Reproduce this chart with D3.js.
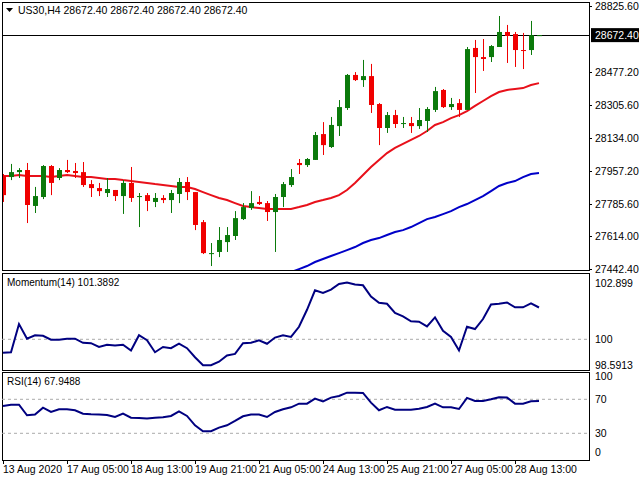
<!DOCTYPE html>
<html><head><meta charset="utf-8">
<script src="https://cdn.jsdelivr.net/npm/d3@7"></script>
<style>body{margin:0;background:#fff}svg{display:block;font-family:"Liberation Sans",Arial,sans-serif}</style>
</head><body><svg id="c" width="640" height="480"></svg>
<script>
const opens  = [27931,27926,27952,27963,27774,27821,27984,27921,27963,27958,27952,27889,27868,27842,27858,27826,27895,27821,27831,27795,27816,27805,27837,27900,27847,27689,27521,27532,27584,27616,27705,27763,27795,27789,27742,27821,27884,28000,27989,28016,28152,28084,28194,28289,28463,28436,28457,28310,28184,28252,28205,28210,28194,28221,28279,28384,28294,28315,28279,28605,28557,28557,28610,28689,28678,28594,28594,28672.4];
const highs  = [27942,27995,27973,28000,27874,27989,27989,27973,28016,28000,28005,27910,27895,27921,27858,27910,27979,27842,27842,27842,27831,27858,27921,27926,27847,27700,27579,27663,27663,27747,27789,27852,27826,27800,27837,27900,27968,28021,28026,28163,28215,28242,28331,28468,28478,28542,28521,28315,28268,28279,28242,28242,28289,28294,28400,28389,28342,28336,28610,28647,28652,28620,28773,28726,28689,28684,28747,28672.4];
const lows   = [27795,27910,27921,27684,27737,27810,27831,27910,27947,27921,27874,27821,27826,27821,27800,27732,27795,27663,27747,27768,27789,27737,27789,27805,27647,27521,27458,27505,27532,27595,27700,27753,27779,27695,27532,27768,27874,27942,27979,28016,28042,28079,28142,28279,28431,28400,28263,28094,28158,28184,28184,28158,28179,28163,28268,28289,28279,28242,28279,28368,28484,28531,28610,28526,28505,28494,28568,28672.4];
const closes = [27831,27952,27963,27779,27826,27984,27895,27963,27952,27947,27884,27868,27852,27863,27826,27895,27816,27826,27800,27816,27805,27842,27900,27847,27674,27526,27526,27595,27621,27710,27768,27789,27784,27742,27821,27889,27926,27989,28021,28147,28094,28200,28294,28463,28436,28457,28305,28184,28252,28205,28210,28194,28226,28284,28378,28294,28310,28279,28599,28557,28547,28615,28689,28668,28594,28589,28672.4,28672.4];
const maFast = [27931,27931,27937,27931,27931,27931,27926,27931,27937,27931,27926,27926,27921,27916,27916,27910,27905,27900,27895,27889,27884,27879,27874,27874,27863,27847,27831,27816,27805,27789,27774,27768,27763,27758,27758,27758,27758,27768,27779,27795,27805,27816,27831,27858,27895,27937,27979,28016,28052,28079,28100,28121,28142,28168,28200,28215,28236,28252,28273,28300,28326,28352,28373,28384,28389,28394,28410,28420];
const maSlow = [null,null,null,null,null,null,null,null,null,null,null,null,null,null,null,null,null,null,null,null,null,null,null,null,null,null,null,null,null,null,null,null,27380,27395,27405,27416,27426,27442,27458,27479,27495,27511,27526,27542,27558,27579,27595,27605,27621,27637,27647,27663,27684,27705,27716,27731,27747,27768,27784,27805,27826,27852,27879,27895,27905,27926,27942,27947];
const momentum = [99.30,99.33,100.79,100.03,100.21,100.18,99.98,99.98,100.03,100.03,99.82,99.80,99.60,99.72,99.68,99.72,99.42,100.21,99.95,99.33,99.60,99.54,99.77,99.54,99.07,98.66,98.66,98.84,99.16,99.24,99.80,99.82,99.95,99.77,100.09,100.21,100.12,100.65,101.53,102.54,102.40,102.58,102.87,102.95,102.84,102.80,102.22,101.89,101.84,101.37,101.19,100.93,100.91,100.67,101.14,100.44,100.12,99.42,100.65,100.53,101.05,101.81,101.84,101.91,101.66,101.66,101.86,101.65];
const rsi = [62.2,63.7,63.7,51.2,52.0,60.2,55.1,58.2,58.2,57.1,53.1,52.4,52.0,51.6,49.2,53.1,48.4,48.0,47.3,48.4,48.8,50.4,55.9,50.4,39.4,32.4,32.4,36.7,39.4,44.5,50.0,52.0,52.0,49.2,55.1,58.2,60.6,64.9,64.9,70.8,67.6,72.0,73.9,77.8,77.8,77.5,66.1,57.1,61.0,57.8,57.8,57.8,59.0,61.0,64.9,60.6,60.6,58.6,71.6,68.0,68.0,70.0,72.4,72.0,64.9,64.9,67.6,67.9];
const priceTicks = [28825.60,28477.20,28305.60,28134.00,27957.20,27785.60,27614.00,27442.40];
const momTicks = [102.899,100,98.5913];
const momLabels = ["102.899","100","98.5913"];
const rsiTicks = [100,70,30,0];
const timeTickIndex = [0,8,16,24,32,40,48,56,64];
const timeLabels = ["13 Aug 2020","17 Aug 05:00","18 Aug 13:00","19 Aug 21:00","21 Aug 05:00","24 Aug 13:00","25 Aug 21:00","27 Aug 05:00","28 Aug 13:00"];
const lastPrice = 28672.40;
const header = "US30,H4  28672.40 28672.40 28672.40 28672.40";

const svg = d3.select("#c");
const L = 2, R = 589;
const FS = 10.5;
const x = d3.scaleLinear().domain([0, 67]).range([3, 539]);
const y = d3.scaleLinear().domain([27442.4, 28825.6]).range([269, 6]);
const ym = d3.scaleLinear().domain([100, 102.899]).range([339.3, 283.4]);
const yr = d3.scaleLinear().domain([0, 100]).range([458.8, 373.8]);
const idx = d3.range(opens.length);

const panels = [[2,270],[273,370],[372,460]];
panels.forEach(([t,b]) => svg.append("rect").attr("x",L+0.5).attr("y",t+0.5).attr("width",R-L).attr("height",b-t).attr("fill","none").attr("stroke","#000"));

svg.append("clipPath").attr("id","mc").append("rect").attr("x",L+1).attr("y",3).attr("width",R-L-1).attr("height",267);
const g = svg.append("g").attr("clip-path","url(#mc)");

g.append("line").attr("x1",L).attr("x2",R).attr("y1",Math.round(y(lastPrice))+0.5).attr("y2",Math.round(y(lastPrice))+0.5).attr("stroke","#000");

const lineMA = d3.line().defined(d => d != null).x((d,i) => x(i)).y(d => y(d));
g.append("path").datum(maSlow).attr("d",lineMA).attr("fill","none").attr("stroke","#0000c8").attr("stroke-width",2);
g.append("path").datum(maFast).attr("d",lineMA).attr("fill","none").attr("stroke","#e8101a").attr("stroke-width",2);

const col = i => closes[i] >= opens[i] ? "#0b7a0b" : "#f00000";
g.selectAll(".w").data(idx).join("line").attr("x1",i=>Math.round(x(i))+0.5).attr("x2",i=>Math.round(x(i))+0.5)
 .attr("y1",i=>y(highs[i])).attr("y2",i=>y(lows[i])).attr("stroke",col);
g.selectAll(".b").data(idx).join("rect").attr("x",i=>Math.round(x(i))-2).attr("width",5)
 .attr("y",i=>y(Math.max(opens[i],closes[i]))).attr("height",i=>Math.max(1,Math.abs(y(opens[i])-y(closes[i])))).attr("fill",col);

svg.append("path").attr("d","M6,8 L13,8 L9.5,12 Z").attr("fill","#000");
svg.append("text").attr("x",18).attr("y",14).attr("font-size",FS).text(header);

svg.selectAll(".pt").data(priceTicks).join("text").attr("x",595).attr("y",d=>y(d)+4).attr("font-size",FS).text(d=>d.toFixed(2));
svg.selectAll(".ptk").data(priceTicks).join("line").attr("x1",R).attr("x2",R+3).attr("y1",d=>Math.round(y(d))+0.5).attr("y2",d=>Math.round(y(d))+0.5).attr("stroke","#000");
const ly = y(lastPrice);
svg.append("rect").attr("x",591).attr("y",ly-7).attr("width",48).attr("height",14).attr("fill","#000");
svg.append("text").attr("x",595).attr("y",ly+4).attr("font-size",FS).attr("fill","#fff").text(lastPrice.toFixed(2));

svg.append("line").attr("x1",L).attr("x2",R).attr("y1",ym(100)).attr("y2",ym(100)).attr("stroke","#aaa").attr("stroke-dasharray","3,3");
svg.append("path").datum(momentum).attr("d",d3.line().x((d,i)=>x(i)).y(d=>Math.max(276,ym(d)))).attr("fill","none").attr("stroke","#000080").attr("stroke-width",2);
svg.append("text").attr("x",7).attr("y",286).attr("font-size",10).text("Momentum(14) 101.3892");
svg.selectAll(".mt").data(momTicks).join("text").attr("x",595).attr("y",d=>Math.min(ym(d)+4,369)).attr("font-size",FS).text((d,i)=>momLabels[i]);

[70,30].forEach(v=>svg.append("line").attr("x1",L).attr("x2",R).attr("y1",yr(v)).attr("y2",yr(v)).attr("stroke","#aaa").attr("stroke-dasharray","3,3"));
svg.append("path").datum(rsi).attr("d",d3.line().x((d,i)=>x(i)).y(d=>yr(d))).attr("fill","none").attr("stroke","#000080").attr("stroke-width",2);
svg.append("text").attr("x",7).attr("y",385).attr("font-size",10).text("RSI(14) 67.9488");
svg.selectAll(".rt").data(rsiTicks).join("text").attr("x",595).attr("y",d=>Math.min(Math.max(yr(d),376),452)+4).attr("font-size",FS).text(d=>d);

svg.selectAll(".tt").data(timeTickIndex).join("line").attr("x1",i=>Math.round(x(i))+0.5).attr("x2",i=>Math.round(x(i))+0.5).attr("y1",460).attr("y2",464).attr("stroke","#000");
svg.selectAll(".tl").data(timeTickIndex).join("text").attr("x",i=>x(i)).attr("y",473).attr("font-size",FS).text((i,k)=>timeLabels[k]);
</script></body></html>
